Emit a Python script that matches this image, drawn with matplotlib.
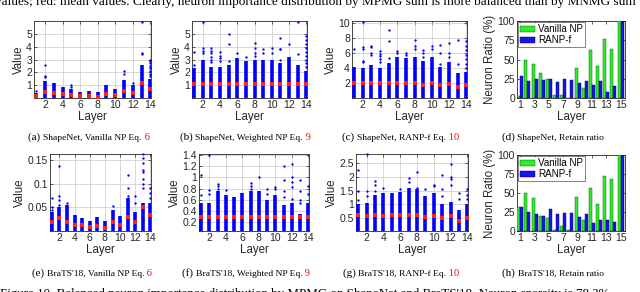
import numpy as np
import matplotlib
matplotlib.use('Agg')
from matplotlib import pyplot as plt
from matplotlib.offsetbox import TextArea, HPacker, AnnotationBbox

plt.rcParams['font.family'] = ['Liberation Sans', 'DejaVu Sans']

layers = np.arange(1, 15)
bar_layers = np.arange(1, 16)

# ---- ShapeNet ----
# per layer: top of the dense column, isolated points above it, mean value
a_dense = [0.4, 1.3, 1.2, 0.85, 0.7, 0.5, 0.55, 0.45, 1.05, 0.7, 1.4, 1.0, 2.6, 1.5]
a_out = [[0.55], [1.6, 1.75, 2.55], [], [], [0.85, 1.0], [], [], [], [], [],
         [1.9, 2.1], [1.2], [3.4, 3.5, 5.95], [1.7, 1.9, 2.1, 2.3, 2.5, 2.7, 2.9, 3.0]]
a_mean = [0.12, 0.5, 0.4, 0.3, 0.25, 0.12, 0.13, 0.08, 0.35, 0.2, 0.55, 0.38, 1.15, 0.7]

b_dense = [2.3, 3.0, 2.4, 2.4, 2.6, 3.1, 2.9, 3.0, 3.0, 3.0, 2.7, 3.2, 2.6, 2.1]
b_out = [[2.6, 3.6], [3.5, 3.7, 3.9, 5.95], [2.8, 3.0, 3.2, 3.5, 3.7, 3.9],
         [2.9, 3.1, 3.3, 3.55], [2.9, 4.2, 5.0], [3.5], [3.2], [3.3, 3.5, 3.9, 4.3],
         [3.5, 3.85], [3.5, 3.9], [3.0, 3.8, 3.85, 4.7], [4.2], [3.4, 5.95],
         [2.4, 2.7, 3.0, 3.3, 3.6, 3.9, 4.2, 4.5, 4.8]]
b_mean = [1.1] * 14

c_dense = [4.2, 4.0, 4.4, 4.0, 4.7, 5.5, 5.3, 5.5, 5.0, 5.5, 4.1, 4.8, 3.4, 3.5]
c_out = [[6.6], [4.8, 5.0, 6.5, 6.8, 10.2], [5.8, 6.0, 6.8, 7.0],
         [4.8, 5.2, 5.6, 5.9, 6.3], [5.3, 7.6, 9.1], [6.0, 6.3], [5.8, 6.0],
         [6.5, 7.0, 7.8], [5.5, 6.0, 6.4], [6.5, 7.0], [4.5, 6.0, 7.1],
         [5.5, 6.0, 7.3], [4.5, 7.8], [4.0, 4.6, 5.2, 5.8, 6.4, 7.0, 7.6]]
c_mean = [2.0, 1.95, 2.0, 2.0, 2.05, 2.0, 2.05, 2.0, 1.8, 1.95, 1.7, 1.85, 1.5, 1.7]

d_vanilla = [3, 50, 44, 33, 25, 4, 4, 0, 39, 13, 62, 41, 77, 64, 100]
d_ranp = [28, 22, 25, 24, 25, 21, 25, 24, 19, 22, 17, 22, 8, 16, 100]

# ---- BraTS'18 ----
e_dense = [0.04, 0.05, 0.055, 0.033, 0.028, 0.022, 0.03, 0.022, 0.045, 0.032,
           0.07, 0.04, 0.06, 0.06]
e_out = [[0.045, 0.05, 0.07], [0.055, 0.065, 0.075, 0.137], [0.06], [], [], [], [], [],
         [0.052], [], [0.075, 0.09, 0.118], [0.06, 0.075],
         [0.09, 0.1, 0.11, 0.125, 0.13, 0.145, 0.155, 0.162], [0.07, 0.08, 0.092]]
e_mean = [0.02, 0.028, 0.02, 0.012, 0.012, 0.008, 0.01, 0.007, 0.02, 0.012,
          0.03, 0.02, 0.05, 0.033]

f_dense = [0.55, 0.55, 0.75, 0.68, 0.65, 0.72, 0.75, 0.75, 0.6, 0.68, 0.5, 0.55, 0.35, 0.55]
f_out = [[0.68, 1.05], [0.7, 0.77, 1.4], [0.8, 0.85, 0.88], [0.77], [], [],
         [0.8, 0.85, 0.9], [1.0], [0.7, 0.8], [0.8, 0.82], [0.65, 0.75, 0.95, 1.2],
         [0.62, 0.82, 0.92, 1.0, 1.24], [0.55, 0.6, 0.75, 0.95], [0.7, 0.84]]
f_mean = [0.29] * 14

g_dense = [1.0, 1.05, 1.35, 1.4, 1.4, 1.45, 1.6, 1.55, 1.3, 1.4, 1.0, 1.1, 0.8, 1.0]
g_out = [[1.15, 1.5, 2.25], [1.3, 1.5, 2.8], [1.5, 1.7, 1.85], [1.6], [], [1.55],
         [1.8, 1.95], [1.6, 2.15], [1.55], [1.65, 1.7], [1.3, 1.55, 2.05],
         [1.7, 1.9, 2.0, 2.45], [1.2, 1.4], [1.2, 1.35, 1.55]]
g_mean = [0.62, 0.58, 0.62, 0.6, 0.62, 0.62, 0.62, 0.62, 0.55, 0.58, 0.5, 0.57, 0.42, 0.52]

h_vanilla = [31, 50, 44, 20, 17, 1, 6, 1, 45, 14, 57, 36, 72, 68, 100]
h_ranp = [31, 25, 22, 20, 29, 22, 24, 24, 19, 23, 10, 14, 15, 12, 100]

serif = ['Liberation Serif', 'DejaVu Serif']
W, H = 640.0, 292.0
tick_col = '0.15'

fig = plt.figure(figsize=(6.4, 2.92), dpi=100)


def px_axes(x0, x1, y0, y1):
    return fig.add_axes([x0 / W, 1 - y1 / H, (x1 - x0) / W, (y1 - y0) / H])


def style(ax):
    ax.grid(True, color='0.82', lw=0.6)
    ax.set_axisbelow(True)
    ax.tick_params(direction='in', length=2, width=0.5, labelsize=7.5,
                   colors=tick_col, pad=1.5, top=True, right=True)
    for s in ax.spines.values():
        s.set_color(tick_col)
        s.set_linewidth(0.6)


def scatter_panel(ax, dense, out, mean, ylim, yticks, yticklabels=None):
    ax.vlines(layers, ylim[0], dense, colors='#0000ff', lw=2.6, zorder=3)
    for i, vals in enumerate(out):
        ax.plot([layers[i]] * len(vals), vals, '.', color='#0000ff', ms=3.4,
                mew=0, zorder=3, clip_on=False)
    ax.plot(layers, mean, 's', color='#ff2020', ms=2.8, mew=0, zorder=4)
    ax.set_xlim(0.75, 14.08)
    ax.set_ylim(*ylim)
    ax.set_xticks([2, 4, 6, 8, 10, 12, 14])
    ax.set_yticks(yticks)
    if yticklabels:
        ax.set_yticklabels(yticklabels)
    ax.set_xlabel('Layer', fontsize=8.3, color=tick_col, labelpad=1)
    ax.set_ylabel('Value', fontsize=8.3, color=tick_col, labelpad=1)
    style(ax)


def bar_panel(ax, van, ranp):
    w = 0.42
    ax.bar(bar_layers - w / 2, van, w, color='#2bef2b', edgecolor='#104010', lw=0.3,
           label='Vanilla NP', zorder=3)
    ax.bar(bar_layers + w / 2, ranp, w, color='#1515ee', edgecolor='#000050', lw=0.3,
           label='RANP-f', zorder=3)
    ax.set_xlim(0.55, 15.62)
    ax.set_ylim(0, 100)
    ax.set_xticks(np.arange(1, 16, 2))
    ax.set_yticks([0, 25, 50, 75, 100])
    ax.set_xlabel('Layer', fontsize=8.3, color=tick_col, labelpad=1)
    ax.set_ylabel('Neuron Ratio (%)', fontsize=8.3, color=tick_col, labelpad=1)
    style(ax)
    ax.grid(False)
    leg = ax.legend(loc='upper left', fontsize=7.1, frameon=True, fancybox=False,
                    borderpad=0.2, handlelength=1.5, handletextpad=0.3,
                    labelspacing=0.1, borderaxespad=0.15)
    leg.get_frame().set_edgecolor(tick_col)
    leg.get_frame().set_linewidth(0.5)


def caption(cx, y, tag, body, num):
    parts = [TextArea(tag + ' ', textprops=dict(family=serif, size=8.0, color='k')),
             TextArea(body, textprops=dict(family=serif, size=6.8, color='k'))]
    if num:
        parts.append(TextArea(' ' + num, textprops=dict(family=serif, size=7.6,
                                                        color='#ee1111')))
    box = HPacker(children=parts, align='baseline', pad=0, sep=0)
    ab = AnnotationBbox(box, (cx / W, 1 - y / H), xycoords='figure fraction',
                        frameon=False, box_alignment=(0.5, 0.5), pad=0)
    fig.add_artist(ab)


ax = px_axes(34, 151, 21, 98)
scatter_panel(ax, a_dense, a_out, a_mean, (0, 6.0), [1, 2, 3, 4, 5])
ax = px_axes(192, 307, 21, 98)
scatter_panel(ax, b_dense, b_out, b_mean, (0, 6.0), [1, 2, 3, 4, 5])
ax = px_axes(352, 467, 21, 98)
scatter_panel(ax, c_dense, c_out, c_mean, (0, 10.3), [2, 4, 6, 8, 10])
ax = px_axes(517, 625, 21, 98)
bar_panel(ax, d_vanilla, d_ranp)

ax = px_axes(50, 151, 154, 231)
scatter_panel(ax, e_dense, e_out, e_mean, (0, 0.163), [0.05, 0.1, 0.15],
              ['0.05', '0.1', '0.15'])
ax = px_axes(199, 309, 154, 231)
scatter_panel(ax, f_dense, f_out, f_mean, (0.04, 1.42),
              [0.2, 0.4, 0.6, 0.8, 1.0, 1.2, 1.4],
              ['0.2', '0.4', '0.6', '0.8', '1', '1.2', '1.4'])
ax = px_axes(356, 468, 154, 231)
scatter_panel(ax, g_dense, g_out, g_mean, (0.05, 2.81), [0.5, 1, 1.5, 2, 2.5],
              ['0.5', '1', '1.5', '2', '2.5'])
ax = px_axes(517, 625, 155, 231)
bar_panel(ax, h_vanilla, h_ranp)

caption(89, 137, '(a)', 'ShapeNet, Vanilla NP Eq.', '6')
caption(245, 137, '(b)', 'ShapeNet, Weighted NP Eq.', '9')
caption(401, 137, '(c)', 'ShapeNet, RANP-f Eq.', '10')
caption(553, 137, '(d)', 'ShapeNet, Retain ratio', None)
caption(92, 273, '(e)', "BraTS'18, Vanilla NP Eq.", '6')
caption(246, 273, '(f)', "BraTS'18, Weighted NP Eq.", '9')
caption(401, 273, '(g)', "BraTS'18, RANP-f Eq.", '10')
caption(553, 273, '(h)', "BraTS'18, Retain ratio", None)

# running text of the page, cut by the crop at the top and bottom
fig.text(-0.008, 1 - 5 / H,
         'values; red: mean values. Clearly, neuron importance distribution by '
         'MPMG sum is more balanced than by MNMG sum',
         family=serif, fontsize=9.5, va='baseline', ha='left')
fig.text(0.0, 1 - 297 / H,
         "Figure 10. Balanced neuron importance distribution by MPMG on "
         "ShapeNet and BraTS'18. Neuron sparsity is 78.3%",
         family=serif, fontsize=9.4, va='baseline', ha='left')

fig.savefig('out.png', dpi=100)
